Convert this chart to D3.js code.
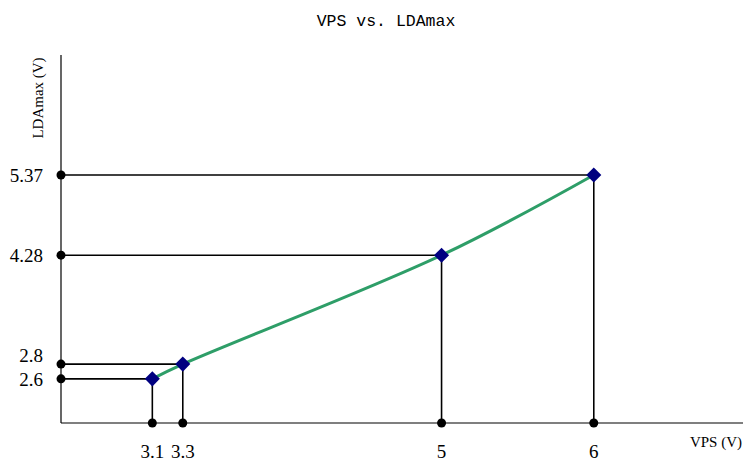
<!DOCTYPE html>
<html>
<head>
<meta charset="utf-8">
<script src="https://cdn.jsdelivr.net/npm/d3@7/dist/d3.min.js"></script>
<style>
  body { margin: 0; background: #fff; }
</style>
</head>
<body>
<div id="chartArea"></div>
<script>
const vps = [3.1, 3.3, 5, 6];
const ldaMax = [2.6, 2.8, 4.28, 5.37];
const xTickLabels = ['3.1', '3.3', '5', '6'];
const yTickLabels = ['2.6', '2.8', '4.28', '5.37'];

const width = 743;
const height = 461;
const margin = { top: 55, left: 61, bottom: 38, right: -3 };

const svg = d3.select('#chartArea').append('svg')
  .attr('width', width)
  .attr('height', height);

const x = d3.scaleLinear().domain([2.5, 7]).range([margin.left, width - margin.right]);
const y = d3.scaleLinear().domain([2, 7]).range([height - margin.bottom, margin.top]);

const points = vps.map((v, i) => ({ x: v, y: ldaMax[i] }));

// Title
svg.append('text')
  .attr('x', 386).attr('y', 26)
  .attr('text-anchor', 'middle')
  .style('font-family', '"Liberation Mono", monospace')
  .style('font-size', '16.5px')
  .text('VPS vs. LDAmax');

// Axes (plain lines)
svg.append('line')
  .attr('x1', x(2.5)).attr('x2', x(2.5))
  .attr('y1', y(7)).attr('y2', y(2))
  .attr('stroke', '#000').attr('stroke-width', 1.2);
svg.append('line')
  .attr('x1', x(2.5)).attr('x2', x(7))
  .attr('y1', y(2)).attr('y2', y(2))
  .attr('stroke', '#000').attr('stroke-width', 1.2);

// Guide lines
const guides = svg.append('g').attr('stroke', '#000').attr('stroke-width', 1.6);
points.forEach(p => {
  guides.append('line')
    .attr('x1', x(2.5)).attr('x2', x(p.x))
    .attr('y1', y(p.y)).attr('y2', y(p.y));
  guides.append('line')
    .attr('x1', x(p.x)).attr('x2', x(p.x))
    .attr('y1', y(p.y)).attr('y2', y(2));
});

// Axis end dots
points.forEach(p => {
  svg.append('circle').attr('cx', x(2.5)).attr('cy', y(p.y)).attr('r', 4.5).attr('fill', '#000');
  svg.append('circle').attr('cx', x(p.x)).attr('cy', y(2)).attr('r', 4.5).attr('fill', '#000');
});

// Green curve
const line = d3.line()
  .x(d => x(d.x))
  .y(d => y(d.y))
  .curve(d3.curveCatmullRom);
svg.append('path')
  .datum(points)
  .attr('d', line)
  .attr('fill', 'none')
  .attr('stroke', '#2e9e68')
  .attr('stroke-width', 3);

// Diamonds
svg.selectAll('.pt').data(points).enter().append('path')
  .attr('class', 'pt')
  .attr('d', d3.symbol().type(d3.symbolDiamond2).size(145))
  .attr('transform', d => `translate(${x(d.x)},${y(d.y)})`)
  .attr('fill', '#000080');

// Tick labels
const tickFont = '"Liberation Serif", "Times New Roman", serif';
// the 2.8 label sits a bit higher so it does not run into 2.6
const yLabelShift = [0, -9, 0, 0];
svg.selectAll('.yt').data(ldaMax).enter().append('text')
  .attr('x', 43)
  .attr('y', (d, i) => y(d) + 7 + yLabelShift[i])
  .attr('text-anchor', 'end')
  .style('font-family', tickFont)
  .style('font-size', '19px')
  .text((d, i) => yTickLabels[i]);

svg.selectAll('.xt').data(vps).enter().append('text')
  .attr('x', d => x(d))
  .attr('y', 458)
  .attr('text-anchor', 'middle')
  .style('font-family', tickFont)
  .style('font-size', '19px')
  .text((d, i) => xTickLabels[i]);

// Axis titles
svg.append('text')
  .attr('x', 742).attr('y', 447)
  .attr('text-anchor', 'end')
  .style('font-family', tickFont)
  .style('font-size', '15px')
  .text('VPS (V)');

svg.append('text')
  .attr('transform', 'translate(43,98) rotate(-90)')
  .attr('text-anchor', 'middle')
  .style('font-family', tickFont)
  .style('font-size', '15px')
  .text('LDAmax (V)');
</script>
</body>
</html>
